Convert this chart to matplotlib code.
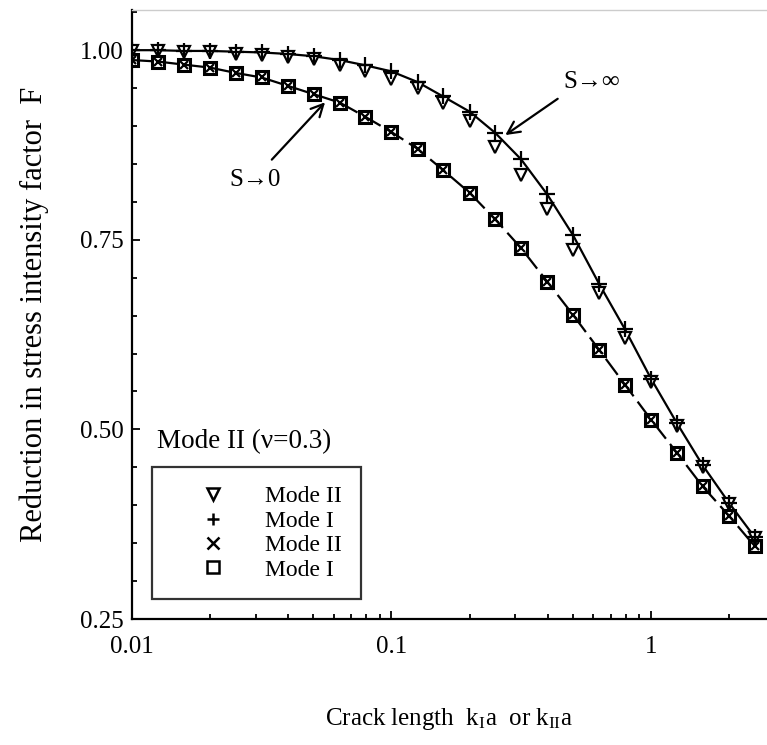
import matplotlib
matplotlib.use("Agg")
import matplotlib.pyplot as plt
from matplotlib.lines import Line2D
from matplotlib.ticker import FixedLocator, MultipleLocator, LogLocator, NullFormatter

plt.rcParams['font.family'] = ['Liberation Serif', 'DejaVu Serif']
plt.rcParams['mathtext.fontset'] = 'custom'
plt.rcParams['mathtext.rm'] = 'Liberation Serif'

# crack length k*a (10 points per decade)
ka = [0.01, 0.0126, 0.0158, 0.02, 0.0251, 0.0316, 0.0398, 0.0501, 0.0631, 0.0794,
      0.1, 0.126, 0.158, 0.2, 0.251, 0.316, 0.398, 0.501, 0.631, 0.794,
      1.0, 1.26, 1.58, 2.0, 2.51]

# S -> infinity
F_inf_mode1 = [1.000, 1.000, 0.999, 0.999, 0.998, 0.997, 0.995, 0.992, 0.987, 0.980,
               0.972, 0.958, 0.939, 0.919, 0.891, 0.856, 0.810, 0.756, 0.692, 0.632,
               0.567, 0.508, 0.453, 0.403, 0.358]
F_inf_mode2 = [0.999, 0.999, 0.998, 0.997, 0.995, 0.994, 0.991, 0.988, 0.981, 0.973,
               0.962, 0.950, 0.931, 0.906, 0.873, 0.836, 0.790, 0.737, 0.680, 0.621,
               0.562, 0.505, 0.451, 0.402, 0.357]

# S -> 0
F_zero_mode2 = [0.987, 0.985, 0.981, 0.977, 0.970, 0.964, 0.953, 0.942, 0.931, 0.912,
                0.892, 0.870, 0.842, 0.812, 0.777, 0.739, 0.695, 0.651, 0.605, 0.559,
                0.513, 0.469, 0.425, 0.386, 0.346]
F_zero_mode1 = [0.987, 0.985, 0.981, 0.977, 0.970, 0.964, 0.953, 0.942, 0.931, 0.912,
                0.892, 0.870, 0.842, 0.812, 0.777, 0.739, 0.695, 0.651, 0.605, 0.559,
                0.513, 0.469, 0.425, 0.386, 0.346]

legend_markers = ['v', '+', 'x', 's']
legend_labels = ['Mode II', 'Mode I', 'Mode II', 'Mode I']

y_ticks = [0.25, 0.50, 0.75, 1.00]
x_ticks = [0.01, 0.1, 1]
x_tick_labels = ['0.01', '0.1', '1']

fig = plt.figure(figsize=(7.67, 7.45), dpi=100)
ax = fig.add_axes([0.1721, 0.1691, 0.8279, 0.8175])

# curves
ax.plot(ka, F_inf_mode1, color='black', lw=1.6, zorder=2)
ax.plot(ka, F_zero_mode1, color='black', lw=1.6, dashes=(9, 3), zorder=2)

# markers
ax.plot(ka, F_inf_mode2, ls='none', marker='v', ms=9, mfc='white', mec='black', mew=1.6, zorder=3)
ax.plot(ka, F_inf_mode1, ls='none', marker='+', ms=11, mec='black', mew=1.6, zorder=4)
ax.plot(ka, F_zero_mode2, ls='none', marker='x', ms=6, mec='black', mew=1.6, zorder=4)
ax.plot(ka, F_zero_mode1, ls='none', marker='s', ms=9, mfc='none', mec='black', mew=2.2, zorder=3)

ax.set_xscale('log')
ax.set_xlim(0.01, 2.8)
ax.set_ylim(0.25, 1.053)

ax.xaxis.set_major_locator(FixedLocator(x_ticks))
ax.set_xticklabels(x_tick_labels)
ax.xaxis.set_minor_locator(LogLocator(base=10, subs=range(2, 10)))
ax.xaxis.set_minor_formatter(NullFormatter())
ax.yaxis.set_major_locator(FixedLocator(y_ticks))
ax.set_yticklabels([f'{v:.2f}' for v in y_ticks])
ax.yaxis.set_minor_locator(MultipleLocator(0.05))

ax.tick_params(which='both', direction='in', top=False, right=False, labelsize=18, width=1.3)
ax.tick_params(which='major', length=6)
ax.tick_params(which='minor', length=3.5)
ax.tick_params(axis='y', which='major', pad=6)
ax.tick_params(axis='x', which='major', pad=12)

for s in ['left', 'bottom']:
    ax.spines[s].set_linewidth(1.6)
ax.spines['right'].set_visible(False)
ax.spines['top'].set_color('#cccccc')
ax.spines['top'].set_linewidth(1.0)

ax.set_xlabel(r'Crack length  $\mathregular{k_I a}$  or $\mathregular{k_{II} a}$', fontsize=18, labelpad=35)
ax.set_ylabel('Reduction in stress intensity factor  F', fontsize=22, labelpad=22)

# annotations
ax.text(0.593, 0.958, 'S→∞', fontsize=18, ha='center', va='center')
ax.annotate('', xy=(0.269, 0.886), xytext=(0.446, 0.938),
            arrowprops=dict(arrowstyle='->', lw=1.6, color='black', mutation_scale=22))
ax.text(0.0298, 0.829, 'S→0', fontsize=18, ha='center', va='center')
ax.annotate('', xy=(0.0564, 0.934), xytext=(0.0340, 0.853),
            arrowprops=dict(arrowstyle='->', lw=1.6, color='black', mutation_scale=22))

# legend
handles = [Line2D([], [], ls='none', marker=m, ms=8, mfc='none', mec='black', mew=1.8)
           for m in legend_markers]
fig.text(157 / 767, 1 - 442 / 745, 'Mode II (ν=0.3)', fontsize=19.5, ha='left', va='center')
leg = ax.legend(handles, legend_labels, loc='upper left', bbox_to_anchor=(152 / 767, 1 - 467 / 745),
                bbox_transform=fig.transFigure, fontsize=17,
                frameon=True, fancybox=False, handlelength=3.6, handletextpad=0.4,
                labelspacing=0.12, borderpad=0.8, borderaxespad=0)
leg.get_frame().set_edgecolor('black')
leg.get_frame().set_linewidth(1.6)

fig.savefig('out.png', dpi=100)
